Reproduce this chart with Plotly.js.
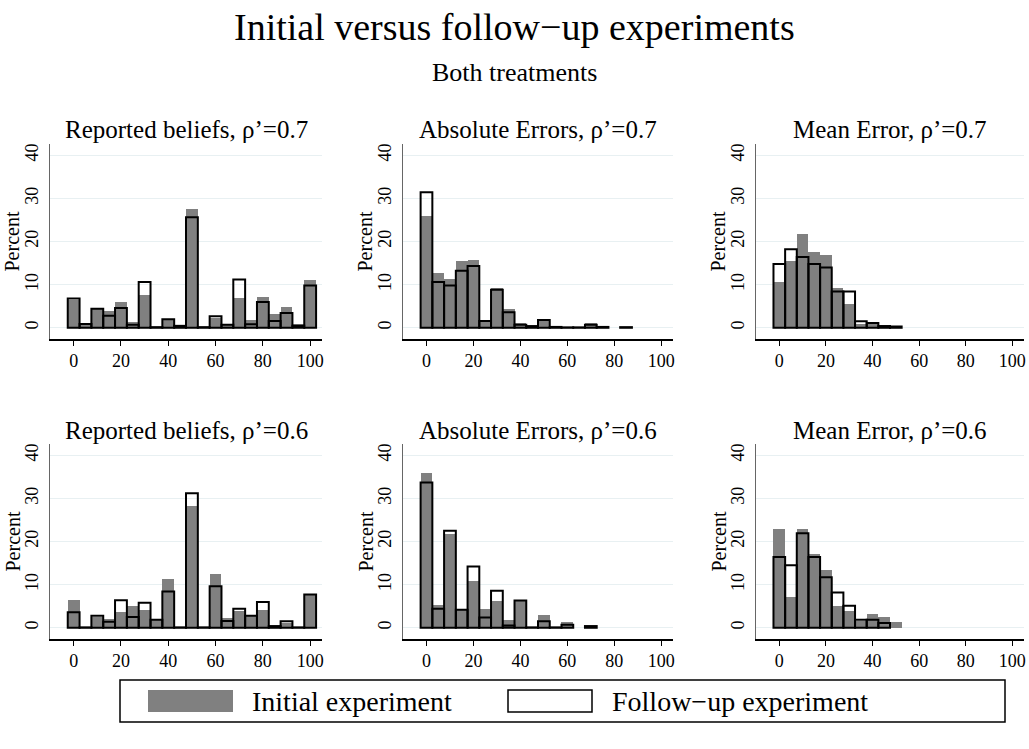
<!DOCTYPE html>
<html>
<head>
<meta charset="utf-8">
<script src="https://cdn.plot.ly/plotly-3.0.1.min.js"></script>
<style>html,body{margin:0;padding:0;background:#fff;}#chart{width:1029px;height:749px;}</style>
</head>
<body>
<div id="chart"></div>
<script>
// ---- data (percent of subjects per 5-point bin) ----
const binsBeliefs = [0,5,10,15,20,25,30,35,40,45,50,55,60,65,70,75,80,85,90,95,100];
const binsAbs07   = [0,5,10,15,20,25,30,35,40,45,50,55,60,65,70,75,80,85];
const binsAbs06   = [0,5,10,15,20,25,30,35,40,45,50,55,60,65,70];
const binsMean    = [0,5,10,15,20,25,30,35,40,45,50];

const beliefs07Initial  = [6.4,0.7,4.4,3.9,5.9,1.3,7.5,0.15,2.0,0.45,27.6,0.15,2.3,0.85,6.8,1.7,7.1,3.1,4.8,0.85,11.0];
const beliefs07FollowUp = [6.8,0.85,4.4,2.8,4.6,0.7,10.6,0.15,2.0,0.45,25.6,0.15,2.7,0.7,11.2,0.8,6.0,1.55,3.4,0.5,9.8];

const abs07Initial  = [25.8,12.7,11.4,15.4,15.7,1.85,9.3,4.3,1.2,0.4,1.8,0.2,0.1,0.1,1.15,0.2,null,0.1];
const abs07FollowUp = [31.4,10.6,9.8,13.2,14.3,1.6,8.8,3.6,0.7,0.4,1.8,0.2,0.1,0.1,0.7,0.2,null,0.15];

const mean07Initial  = [10.7,15.5,21.8,17.5,16.9,9.3,5.6,0.85,1.2,0.6,0.3];
const mean07FollowUp = [14.8,18.2,16.4,14.8,14.0,8.4,8.4,1.5,1.1,0.4,0.3];

const beliefs06Initial  = [6.5,0.1,2.4,2.0,3.7,5.1,4.2,1.8,11.4,0.1,28.3,0.1,12.5,2.2,3.9,2.7,4.2,0.4,1.2,0.1,7.8];
const beliefs06FollowUp = [3.6,0.1,2.8,1.4,6.4,2.5,5.8,1.85,8.4,0.1,31.2,0.1,9.6,1.6,4.4,2.8,6.0,0.4,1.5,0.1,7.7];

const abs06Initial  = [35.8,5.2,21.7,4.4,10.9,4.4,6.3,1.7,6.1,0.1,2.9,0.1,1.4,null,0.4];
const abs06FollowUp = [33.7,4.4,22.5,4.2,14.2,2.4,8.6,0.55,6.3,0.1,1.5,0.1,0.7,null,0.4];

const mean06Initial  = [23.0,7.2,23.0,17.1,13.5,5.1,4.0,1.5,3.3,2.5,1.4];
const mean06FollowUp = [16.4,14.5,21.9,16.4,11.7,8.2,5.1,1.85,1.85,1.1,null];

const panelTitles = [
  "Reported beliefs, ρ’=0.7", "Absolute Errors, ρ’=0.7", "Mean Error, ρ’=0.7",
  "Reported beliefs, ρ’=0.6", "Absolute Errors, ρ’=0.6", "Mean Error, ρ’=0.6"
];
const xTickVals = [0,20,40,60,80,100];
const yTickVals = [0,10,20,30,40];
const yTitle = "Percent";
const seriesNames = ["Initial experiment", "Follow−up experiment"];

const panels = [
  {bins: binsBeliefs, init: beliefs07Initial, follow: beliefs07FollowUp},
  {bins: binsAbs07,   init: abs07Initial,     follow: abs07FollowUp},
  {bins: binsMean,    init: mean07Initial,    follow: mean07FollowUp},
  {bins: binsBeliefs, init: beliefs06Initial, follow: beliefs06FollowUp},
  {bins: binsAbs06,   init: abs06Initial,     follow: abs06FollowUp},
  {bins: binsMean,    init: mean06Initial,    follow: mean06FollowUp}
];

// ---- layout geometry ----
const W = 1029, H = 749;
const FONT = "Liberation Serif, Times New Roman, serif";
const colDom = [[50/W, 322/W], [403/W, 673/W], [756/W, 1024/W]];
const rowDom = [[1-339/H, 1-144/H], [1-639/H, 1-444/H]];

const traces = [];
const layout = {
  width: W, height: H, autosize: false,
  margin: {l:0, r:0, t:0, b:0},
  paper_bgcolor: "#ffffff", plot_bgcolor: "#ffffff",
  barmode: "overlay", bargap: 0,
  showlegend: false,
  font: {family: FONT, color: "#000", size: 18},
  annotations: [], shapes: []
};

panels.forEach((p, i) => {
  const n = i + 1;
  const xa = n === 1 ? "x" : "x" + n;
  const ya = n === 1 ? "y" : "y" + n;
  traces.push({
    type: "bar", x: p.bins, y: p.init, width: 5, name: seriesNames[0],
    xaxis: xa, yaxis: ya,
    marker: {color: "#808080", line: {width: 0}}, hoverinfo: "x+y"
  });
  traces.push({
    type: "bar", x: p.bins, y: p.follow, width: 5, name: seriesNames[1],
    xaxis: xa, yaxis: ya,
    marker: {color: "rgba(0,0,0,0)", line: {color: "#000", width: 2}}, hoverinfo: "x+y"
  });
  const col = i % 3, row = Math.floor(i / 3);
  const xKey = n === 1 ? "xaxis" : "xaxis" + n;
  const yKey = n === 1 ? "yaxis" : "yaxis" + n;
  layout[xKey] = {
    domain: colDom[col], anchor: ya, range: [-10, 105],
    tickvals: xTickVals, ticks: "outside", ticklen: 5, tickwidth: 1, tickcolor: "#000",
    showgrid: false, zeroline: false, showline: true, linecolor: "#000", linewidth: 1.5,
    tickfont: {family: FONT, size: 18, color: "#000"}
  };
  layout[yKey] = {
    domain: rowDom[row], anchor: xa, range: [-2.6, 42.6],
    tickvals: yTickVals, ticks: "outside", ticklen: 3, tickwidth: 1, tickcolor: "rgba(0,0,0,0)",
    tickangle: -90,
    showgrid: true, gridcolor: "#e8f0f2", gridwidth: 1,
    zeroline: false, showline: true, linecolor: "#666", linewidth: 1.5,
    tickfont: {family: FONT, size: 18, color: "#000"}
  };
  layout.annotations.push({
    text: panelTitles[i], xref: "paper", yref: "paper",
    x: (colDom[col][0] + colDom[col][1]) / 2, y: rowDom[row][1] + 14/H,
    xanchor: "center", yanchor: "middle", showarrow: false,
    font: {family: FONT, size: 25, color: "#000"}
  });
  layout.annotations.push({
    text: yTitle, xref: "paper", yref: "paper", textangle: -90,
    x: colDom[col][0] - 38/W, y: (rowDom[row][0] + rowDom[row][1]) / 2,
    xanchor: "center", yanchor: "middle", showarrow: false,
    font: {family: FONT, size: 20, color: "#000"}
  });
});

// main title & subtitle
layout.annotations.push({
  text: "Initial versus follow−up experiments", xref: "paper", yref: "paper",
  x: 0.5, y: 1 - 27/H, xanchor: "center", yanchor: "middle", showarrow: false,
  font: {family: FONT, size: 38, color: "#000"}
});
layout.annotations.push({
  text: "Both treatments", xref: "paper", yref: "paper",
  x: 0.5, y: 1 - 72/H, xanchor: "center", yanchor: "middle", showarrow: false,
  font: {family: FONT, size: 26, color: "#000"}
});

// legend (drawn as a key box)
layout.shapes.push({type: "rect", xref: "paper", yref: "paper",
  x0: 120/W, x1: 1005/W, y0: 1-722/H, y1: 1-680/H,
  line: {color: "#000", width: 1.5}, fillcolor: "rgba(0,0,0,0)"});
layout.shapes.push({type: "rect", xref: "paper", yref: "paper",
  x0: 148/W, x1: 233/W, y0: 1-712/H, y1: 1-690/H,
  line: {width: 0}, fillcolor: "#808080"});
layout.shapes.push({type: "rect", xref: "paper", yref: "paper",
  x0: 508/W, x1: 592/W, y0: 1-712/H, y1: 1-690/H,
  line: {color: "#000", width: 1.5}, fillcolor: "#fff"});
layout.annotations.push({
  text: seriesNames[0], xref: "paper", yref: "paper",
  x: 250/W, y: 1 - 701/H, xanchor: "left", yanchor: "middle", showarrow: false,
  font: {family: FONT, size: 28, color: "#000"}
});
layout.annotations.push({
  text: seriesNames[1], xref: "paper", yref: "paper",
  x: 610/W, y: 1 - 701/H, xanchor: "left", yanchor: "middle", showarrow: false,
  font: {family: FONT, size: 28, color: "#000"}
});

Plotly.newPlot("chart", traces, layout, {displayModeBar: false, staticPlot: true});
</script>
</body>
</html>
